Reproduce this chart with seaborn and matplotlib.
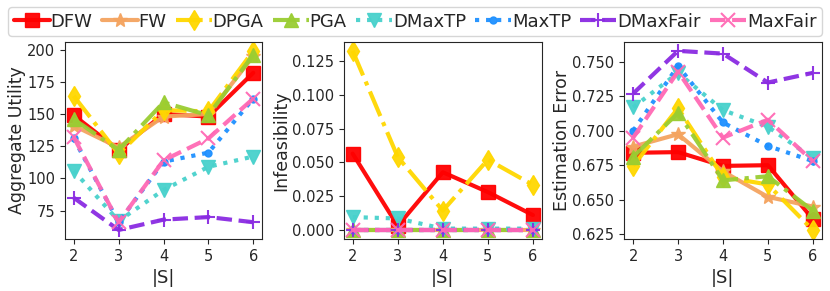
import matplotlib
matplotlib.use("Agg")
import matplotlib.pyplot as plt
import seaborn as sns
import pandas as pd

sns.set_style("ticks")
plt.rcParams['font.family'] = ['DejaVu Sans']

sizes = [2, 3, 4, 5, 6]
methods = ["DFW", "FW", "DPGA", "PGA", "DMaxTP", "MaxTP", "DMaxFair", "MaxFair"]

utility = {
    "DFW":      [149, 122, 150, 148, 182],
    "FW":       [141, 124, 148, 150, 195],
    "DPGA":     [164, 119, 153, 152, 199],
    "PGA":      [146, 122, 159, 149, 196],
    "DMaxTP":   [106, 67, 91, 109, 117],
    "MaxTP":    [131, 66, 113, 120, 162],
    "DMaxFair": [85, 60, 68, 70, 66],
    "MaxFair":  [132, 66, 114, 131, 162],
}
infeas = {
    "DFW":      [0.0565, 0.003, 0.0427, 0.028, 0.011],
    "FW":       [0.0, 0.0, 0.0, 0.0, 0.0],
    "DPGA":     [0.1325, 0.054, 0.0143, 0.052, 0.0333],
    "PGA":      [0.0, 0.0, 0.0, 0.0, 0.0],
    "DMaxTP":   [0.0095, 0.0085, 0.001, 0.001, 0.001],
    "MaxTP":    [0.0, 0.0, 0.0, 0.0, 0.0],
    "DMaxFair": [0.0, 0.0, 0.0, 0.0, 0.0],
    "MaxFair":  [0.0, 0.0, 0.0, 0.0, 0.0],
}
est_err = {
    "DFW":      [0.684, 0.6845, 0.6745, 0.675, 0.636],
    "FW":       [0.6885, 0.6975, 0.6705, 0.652, 0.645],
    "DPGA":     [0.6745, 0.7165, 0.6665, 0.661, 0.628],
    "PGA":      [0.681, 0.713, 0.664, 0.667, 0.642],
    "DMaxTP":   [0.717, 0.742, 0.715, 0.703, 0.680],
    "MaxTP":    [0.700, 0.747, 0.706, 0.689, 0.678],
    "DMaxFair": [0.727, 0.758, 0.756, 0.735, 0.742],
    "MaxFair":  [0.695, 0.743, 0.695, 0.708, 0.678],
}

colors = {"DFW": "red", "FW": "sandybrown", "DPGA": "gold", "PGA": "yellowgreen",
          "DMaxTP": "mediumturquoise", "MaxTP": "dodgerblue", "DMaxFair": "blueviolet",
          "MaxFair": "hotpink"}
markers = {"DFW": "s", "FW": "*", "DPGA": "d", "PGA": "^", "DMaxTP": "v",
           "MaxTP": ".", "DMaxFair": "+", "MaxFair": "x"}
styles = {"DFW": "-", "FW": "-", "DPGA": "-.", "PGA": "-.", "DMaxTP": ":",
          "MaxTP": ":", "DMaxFair": "--", "MaxFair": "--"}

fig = plt.figure(figsize=(8.3, 2.91), dpi=100)
axes = [fig.add_axes([0.078, 0.179, 0.238, 0.677]),
        fig.add_axes([0.414, 0.179, 0.239, 0.677]),
        fig.add_axes([0.752, 0.179, 0.238, 0.677])]

panels = [(utility, "Aggregate Utility"), (infeas, "Infeasibility"), (est_err, "Estimation Error")]
for ax, (data, ylabel) in zip(axes, panels):
    for m in methods:
        df = pd.DataFrame({"x": sizes, "y": data[m]})
        sns.lineplot(data=df, x="x", y="y", ax=ax, color=colors[m], marker=markers[m],
                     linestyle=styles[m], linewidth=3, markersize=10,
                     markeredgewidth=1.5 if markers[m] in "+x" else 1,
                     markeredgecolor=colors[m], label=m, legend=False, alpha=0.95)
    ax.set_xticks(sizes)
    ax.set_xlabel("|S|", fontsize=13)
    ax.set_ylabel(ylabel, fontsize=12.5, labelpad=1)
    ax.tick_params(labelsize=10.5)

axes[0].set_yticks([75, 100, 125, 150, 175, 200])
axes[1].set_yticks([0.0, 0.025, 0.05, 0.075, 0.1, 0.125])
axes[1].set_yticklabels(["0.000", "0.025", "0.050", "0.075", "0.100", "0.125"])
axes[2].set_yticks([0.625, 0.65, 0.675, 0.7, 0.725, 0.75])
axes[2].set_yticklabels(["0.625", "0.650", "0.675", "0.700", "0.725", "0.750"])

handles, labels = axes[0].get_legend_handles_labels()
fig.legend(handles, labels, loc="upper center", bbox_to_anchor=(0.5, 1.0), ncol=8,
           fontsize=13, handlelength=2.0, columnspacing=0.5, handletextpad=0.05,
           borderpad=0.3, borderaxespad=0.4, frameon=True)

fig.savefig("out.png", dpi=100)
